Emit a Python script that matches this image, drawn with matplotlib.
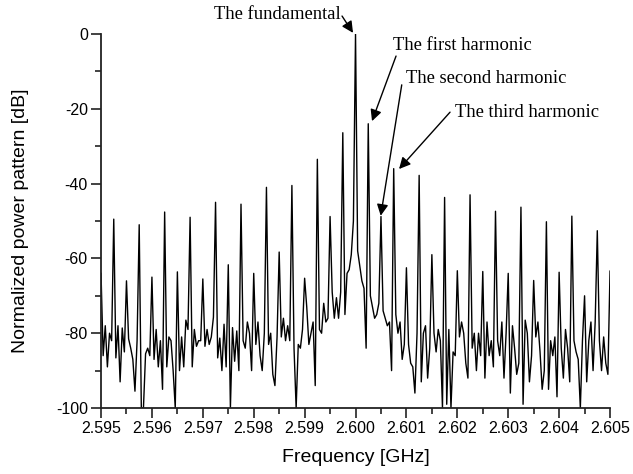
import numpy as np
import matplotlib
matplotlib.use('Agg')
import matplotlib.pyplot as plt

plt.rcParams['axes.unicode_minus'] = False

# peak values at every 0.25 MHz step (2.595 ... 2.605 GHz), dB
peaks = [-64, -49.5, -66, -51, -65, -47.6, -63.6, -49, -65.5, -45,
         -61.7, -45.5, -64, -41, -58.3, -40.5, -65.3, -33.5, -48.8, -26.4,
         0, -24, -48.8, -36, -62.5, -37.8, -59, -43.7, -63.3, -43,
         -63.5, -47.4, -64, -46.3, -65.9, -50.2, -63.7, -48.7, -70, -52.6,
         -63.4]

# noise floor between neighbouring peaks, 5 samples per gap, dB
floor = [
    [-86, -78, -89, -80, -82],
    [-86.6, -78, -93, -78.6, -85],
    [-81.5, -84, -87, -95.5, -82],
    [-100, -100, -85.5, -84, -86],
    [-87, -79, -89, -82, -95],
    [-89, -81, -82, -90, -100],
    [-90, -81, -89, -76.5, -79],
    [-89, -79, -83.5, -82, -82],
    [-83.5, -79, -83, -81, -75.7],
    [-86.6, -81.3, -90, -77.6, -89],
    [-100, -78.5, -87.5, -79.4, -90],
    [-82, -84, -77, -80, -90],
    [-83, -77, -86, -90, -80],
    [-83, -80, -91, -94, -81],
    [-81, -76, -82, -78, -82],
    [-84, -100, -83, -84, -79],
    [-73, -83, -80, -77, -94],
    [-79, -80, -72, -77, -76],
    [-69, -76, -70.5, -76, -69],
    [-75, -64, -63, -59, -50],
    [-58, -62, -66, -68, -84],
    [-70, -73, -76, -75, -72],
    [-74, -76, -78, -77, -90],
    [-75, -80, -77, -87, -83],
    [-83, -88, -89, -96, -80],
    [-93, -80, -78, -92, -84],
    [-80, -85, -79, -82, -100],
    [-99, -79, -100, -85, -86],
    [-81, -77, -80, -88, -92],
    [-84, -80, -90, -80, -86],
    [-92, -77, -86, -82, -89],
    [-82, -86, -77, -92, -80],
    [-96, -78, -84, -91, -88],
    [-99, -76.5, -80, -93, -86],
    [-81, -77, -85, -95, -90],
    [-95, -82, -86, -81, -97],
    [-84, -92, -79, -84, -93],
    [-82, -85, -87, -100, -82],
    [-93, -82, -77, -90, -77],
    [-82, -90, -81, -88, -91],
]

f_start = 2.595
f_stop = 2.605

# merge peaks and floor into one trace
power = []
for i in range(len(floor)):
    power.append(peaks[i])
    power += floor[i]
power.append(peaks[-1])
freq = np.linspace(f_start, f_stop, len(power))

fig = plt.figure(figsize=(6.33, 4.74), dpi=100)
ax = fig.add_axes([0.1596, 0.1392, 0.8041, 0.7891])

ax.plot(freq, power, color='black', lw=1.0)

ax.set_xlim(f_start, f_stop)
ax.set_ylim(-100, 0)
ax.set_xticks(np.arange(2.595, 2.6051, 0.001))
ax.set_xticks(np.arange(2.5955, 2.605, 0.001), minor=True)
ax.set_yticks(np.arange(-100, 1, 20))
ax.set_yticks(np.arange(-90, 0, 20), minor=True)
ax.xaxis.set_major_formatter(matplotlib.ticker.FormatStrFormatter('%.3f'))

for s in ['top', 'right']:
    ax.spines[s].set_visible(False)
for s in ['left', 'bottom']:
    ax.spines[s].set_linewidth(1.3)
    ax.spines[s].set_color('#222222')

ax.tick_params(which='major', direction='out', length=7, width=1.2,
               color='#222222', labelsize=11.5, pad=2.5)
ax.tick_params(which='minor', direction='out', length=4, width=1.2,
               color='#222222')
for lab in ax.get_xticklabels() + ax.get_yticklabels():
    lab.set_family('Liberation Sans')

ax.set_xlabel('Frequency [GHz]', family='Liberation Sans', fontsize=14)
ax.set_ylabel('Normalized power pattern [dB]', family='Liberation Sans', fontsize=14)
ax.xaxis.set_label_coords(0.5, -0.11)
ax.yaxis.set_label_coords(-0.142, 0.5)

# annotations
serif = dict(family='Liberation Serif', fontsize=13.4, va='center')
arrow = dict(arrowstyle='-|>', color='black', lw=1.0, mutation_scale=17,
             shrinkA=0, shrinkB=0)

ax.text(2.599715, 5.1, 'The fundamental', ha='right', clip_on=False, **serif)
ax.annotate('', xy=(2.599951, 0.3), xytext=(2.599735, 4.8),
            arrowprops=arrow, annotation_clip=False)

ax.text(2.600737, -3.2, 'The first harmonic', ha='left', **serif)
ax.annotate('', xy=(2.600324, -23.3), xytext=(2.600796, -5.9),
            arrowprops=arrow)

ax.text(2.600992, -11.8, 'The second harmonic', ha='left', **serif)
ax.annotate('', xy=(2.600495, -48.6), xytext=(2.600908, -13.6),
            arrowprops=arrow)

ax.text(2.601955, -20.9, 'The third harmonic', ha='left', **serif)
ax.annotate('', xy=(2.600855, -36.1), xytext=(2.601857, -20.9),
            arrowprops=arrow)

fig.savefig('out.png', dpi=100)
